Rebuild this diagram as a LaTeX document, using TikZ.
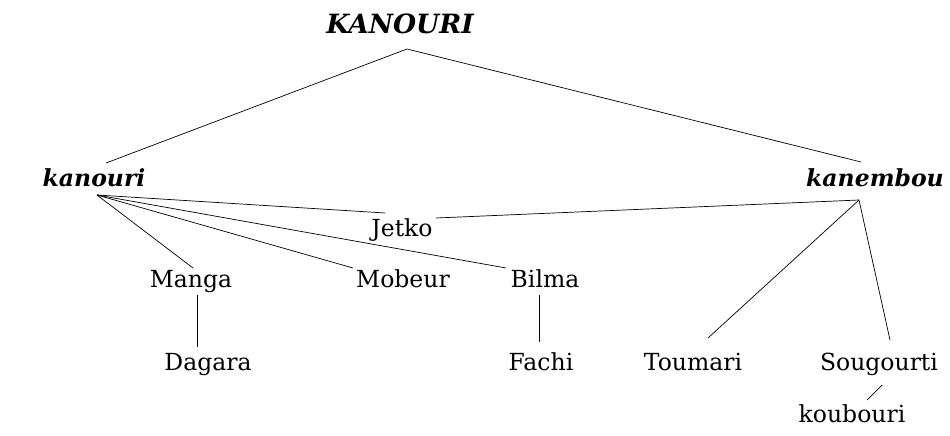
\documentclass[tikz,border=0pt]{standalone}
\usepackage{fontspec}
\setmainfont{DejaVu Serif}
\begin{document}
\begin{tikzpicture}[x=1pt,y=-1pt,
  lab/.style={anchor=base,inner sep=0pt,font=\fontsize{23.5}{26}\selectfont},
  blab/.style={lab,font=\fontsize{23.5}{26}\selectfont\bfseries\itshape},
  tlab/.style={lab,font=\fontsize{26.5}{30}\selectfont\bfseries\itshape},
  edge/.style={line width=0.7pt}]
\useasboundingbox (0,0) rectangle (950,436);
\node[tlab] (top) at (400,34) {KANOURI};
\node[blab] (kanouri) at (94,186) {kanouri};
\node[blab] (kanembou) at (875,186) {kanembou};
\node[lab] (jetko) at (402,236) {Jetko};
\node[lab] (manga) at (191,287) {Manga};
\node[lab] (mobeur) at (403,287) {Mobeur};
\node[lab] (bilma) at (545,287) {Bilma};
\node[lab] (dagara) at (208,370) {Dagara};
\node[lab] (fachi) at (541,370) {Fachi};
\node[lab] (toumari) at (693,370) {Toumari};
\node[lab] (sougourti) at (879,370) {Sougourti};
\node[lab] (koubouri) at (852,422) {koubouri};
\draw[edge] ([shift={(12,-23)}]kanouri.base) -- ([shift={(7,15)}]top.base) -- ([shift={(-14,-24)}]kanembou.base);
\draw[edge] ([shift={(3,9)}]kanouri.base) -- ([shift={(-17,-23)}]jetko.base);
\draw[edge] ([shift={(3,9)}]kanouri.base) -- ([shift={(2,-19)}]manga.base);
\draw[edge] ([shift={(3,9)}]kanouri.base) -- ([shift={(-50,-19)}]mobeur.base);
\draw[edge] ([shift={(3,9)}]kanouri.base) -- ([shift={(-39,-19)}]bilma.base);
\draw[edge] ([shift={(-16,14)}]kanembou.base) -- ([shift={(34,-18)}]jetko.base);
\draw[edge] ([shift={(-16,14)}]kanembou.base) -- ([shift={(15,-32)}]toumari.base);
\draw[edge] ([shift={(-16,14)}]kanembou.base) -- ([shift={(11,-30)}]sougourti.base);
\draw[edge] ([shift={(6,8)}]manga.base) -- ([shift={(-11,-23)}]dagara.base);
\draw[edge] ([shift={(-6,8)}]bilma.base) -- ([shift={(-2,-28)}]fachi.base);
\draw[edge] ([shift={(3,15)}]sougourti.base) -- ([shift={(15,-22)}]koubouri.base);
\end{tikzpicture}
\end{document}
